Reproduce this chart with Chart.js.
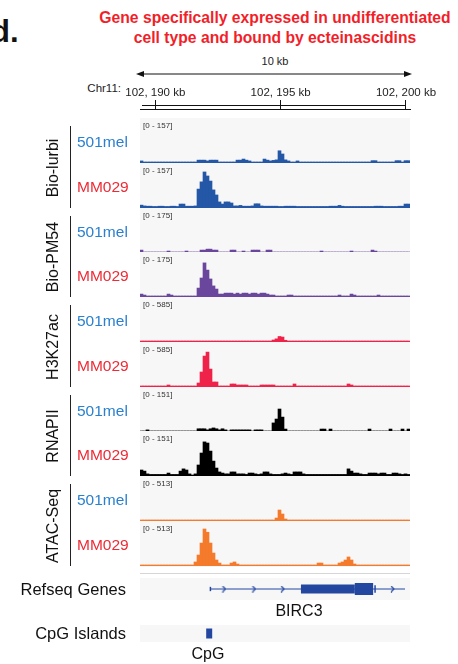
<!DOCTYPE html>
<html>
<head>
<meta charset="utf-8">
<script src="https://cdn.jsdelivr.net/npm/chart.js@4"></script>
<style>
  body { margin: 0; width: 458px; height: 664px; background: #fff; position: relative; overflow: hidden;
         font-family: Helvetica, Arial, "Liberation Sans", sans-serif; }
  .abs { position: absolute; line-height: 1; white-space: nowrap; }
  .panel { position: absolute; left: 140px; width: 270px; background: #f7f7f7; }
  .range { position: absolute; left: 143px; font-size: 8px; line-height: 1; color: #333; }
  .cell { position: absolute; left: 77px; font-size: 15.5px; line-height: 1; }
  .grp { position: absolute; left: -7px; width: 120px; height: 16px; font-size: 16px; line-height: 16px;
         text-align: center; transform: rotate(-90deg); color: #111; }
  .vline { position: absolute; left: 70px; width: 1px; background: #222; }
  .label { position: absolute; left: 0; width: 126px; text-align: right; font-size: 16.5px; line-height: 1; color: #111; }
</style>
</head>
<body>
<div class="abs" style="left:-9px;top:16px;font-size:31px;font-weight:bold;color:#111;">d.</div>
<div class="abs" style="left:75px;top:8px;width:400px;text-align:center;font-size:15.7px;line-height:20px;font-weight:bold;color:#f21f2a;">
  Gene specifically expressed in undifferentiated<br>cell type and bound by ecteinascidins</div>
<div class="abs" style="left:225px;top:56px;width:100px;text-align:center;font-size:11px;color:#222;">10 kb</div>
<svg style="position:absolute;left:0;top:68px" width="458" height="12">
  <line x1="139" y1="6" x2="409" y2="6" stroke="#111" stroke-width="1"/>
  <polygon points="136,6 144,3 144,9" fill="#111"/>
  <polygon points="412,6 404,3 404,9" fill="#111"/>
</svg>
<svg style="position:absolute;left:0;top:98px" width="458" height="10">
  <line x1="142" y1="7.5" x2="406" y2="7.5" stroke="#111" stroke-width="1"/>
  <line x1="155.5" y1="2" x2="155.5" y2="8" stroke="#111" stroke-width="1"/>
  <line x1="280.5" y1="2" x2="280.5" y2="8" stroke="#111" stroke-width="1"/>
  <line x1="405.5" y1="2" x2="405.5" y2="8" stroke="#111" stroke-width="1"/>
</svg>
<div class="abs" style="left:0;top:83px;width:121px;text-align:right;font-size:11.5px;color:#222;">Chr11:</div>
<div id="tracks"></div>
<div style="position:absolute;left:0;top:82px;width:458px;height:60px;"><canvas id="ruler" width="458" height="60"></canvas></div>
<div class="abs" style="left:140px;top:573px;width:270px;height:1px;background:#d6d6d6;"></div>
<div class="panel" style="top:578px;height:22px;"></div>
<div style="position:absolute;left:140px;top:578px;width:270px;height:22px;"><canvas id="gene" width="270" height="22"></canvas></div>
<div class="label" style="top:581px;">Refseq Genes</div>
<div class="abs" style="left:249px;top:603px;width:100px;text-align:center;font-size:16px;color:#111;">BIRC3</div>
<div class="panel" style="top:625px;height:17px;"></div>
<div style="position:absolute;left:140px;top:625px;width:270px;height:17px;"><canvas id="cpg" width="270" height="17"></canvas></div>
<div class="label" style="top:625px;">CpG Islands</div>
<div class="abs" style="left:158px;top:646px;width:100px;text-align:center;font-size:16px;color:#111;">CpG</div>

<script>
// genome window (kb on chr11) and ruler ticks
const viewStartKb = 102189.39;
const viewEndKb = 102200.16;
const rulerTicks = [102190, 102195, 102200];

// signal per 3px bin (90 bins across the window), in track units
const lurbi501 = [
  4,0,0,0,0,0,0,0,0,0,
  0,0,0,0,0,0,0,0,0,7,
  7,7,4,7,7,7,0,0,0,0,
  0,0,7,7,11,7,4,0,0,0,
  0,11,7,4,6,8,42,30,8,4,
  0,0,4,0,0,0,0,0,0,0,
  0,0,0,0,0,0,0,0,0,0,
  0,0,0,0,0,0,0,5,5,0,
  0,0,0,0,0,5,5,0,5,5];
const lurbiMM029 = [
  7,4,3,3,2,2,3,3,2,2,
  3,3,2,11,11,3,3,3,4,67,
  94,131,116,97,64,45,19,11,19,19,
  15,4,4,6,3,3,3,4,12,12,
  4,3,3,3,3,3,2,2,3,3,
  3,3,2,2,2,2,2,2,2,2,
  2,2,2,3,3,3,6,3,2,2,
  2,2,2,2,2,2,2,2,3,3,
  3,2,2,2,2,2,3,3,11,11];
const pm54_501 = [
  8,0,0,0,0,0,0,0,0,4,
  0,0,0,0,0,4,0,0,0,0,
  8,8,12,12,8,8,0,0,0,0,
  8,8,0,0,4,0,0,8,8,8,
  0,0,8,8,0,0,0,0,0,0,
  0,0,0,0,0,0,0,0,0,0,
  4,0,0,0,0,0,0,0,0,0,
  4,0,0,0,0,0,0,8,4,0,
  0,0,0,0,0,0,0,0,0,0];
const pm54MM029 = [
  8,4,0,0,0,0,0,0,0,8,
  4,0,0,0,0,0,0,0,0,33,
  75,138,108,71,42,29,8,8,12,12,
  12,8,12,8,12,12,8,12,12,8,
  12,12,8,4,4,0,0,0,0,4,
  4,0,0,0,0,0,0,0,0,0,
  0,0,0,0,0,0,4,0,0,0,
  8,4,0,0,0,0,0,0,0,4,
  0,0,0,0,0,0,0,0,0,0];
const h3k27ac501 = [
  0,0,0,0,0,0,0,0,0,0,
  0,0,0,0,0,0,0,0,0,0,
  0,0,0,0,0,0,0,0,0,0,
  0,0,0,0,0,0,0,0,0,0,
  0,0,0,0,14,30,63,55,10,0,
  0,0,0,0,0,0,0,0,0,0,
  0,0,0,0,0,0,0,0,0,0,
  0,0,0,0,0,0,0,0,0,0,
  0,0,0,0,0,0,0,0,0,0];
const h3k27acMM029 = [
  0,0,0,0,0,0,0,0,0,14,
  0,0,0,0,0,0,0,0,0,42,
  195,417,472,236,56,56,0,0,0,0,
  28,28,14,14,14,14,0,0,0,0,
  14,14,14,14,14,0,0,0,0,0,
  0,28,0,0,0,0,0,0,0,0,
  0,0,0,0,0,0,0,0,0,28,
  14,0,0,0,0,0,0,0,0,0,
  0,0,0,0,0,0,0,0,0,0];
const rnapii501 = [
  0,0,4,0,0,0,0,0,0,0,
  0,0,0,0,0,0,0,0,0,8,
  8,8,4,8,11,8,4,8,4,0,
  4,4,4,4,4,4,4,0,4,4,
  4,0,0,0,29,43,79,50,7,0,
  0,0,0,0,0,0,0,0,0,0,
  7,7,0,7,0,0,0,0,0,0,
  0,0,0,0,0,0,7,0,0,0,
  0,0,0,7,0,0,0,7,0,7];
const rnapiiMM029 = [
  18,14,4,2,2,2,2,2,2,7,
  2,2,2,14,22,18,4,0,4,36,
  79,119,115,86,50,25,11,7,4,4,
  11,11,4,4,4,2,7,7,4,2,
  4,11,11,4,2,2,2,4,7,4,
  2,11,11,11,4,2,2,2,2,2,
  2,2,2,2,2,2,2,2,2,22,
  14,7,7,4,2,2,7,7,7,4,
  7,7,2,2,7,7,4,2,4,2];
const atac501 = [
  0,0,0,0,0,0,0,0,0,0,
  0,0,0,0,0,0,0,0,0,0,
  0,0,0,0,0,0,0,0,0,0,
  0,0,0,0,0,0,0,0,0,0,
  0,0,0,0,0,24,122,73,12,0,
  0,0,0,0,0,0,0,0,0,0,
  0,0,0,0,0,0,0,0,0,0,
  0,0,0,0,0,0,0,0,0,0,
  0,0,0,0,0,0,0,0,0,0];
const atacMM029 = [
  0,0,0,0,0,0,0,0,0,0,
  0,0,0,0,0,0,0,0,37,122,
  268,440,400,268,146,61,24,0,0,0,
  24,37,12,0,0,0,0,0,0,0,
  0,0,0,0,0,0,0,0,0,0,
  0,0,0,0,0,0,0,0,0,24,
  24,0,0,0,0,0,24,37,61,98,
  61,12,0,0,0,0,0,0,0,0,
  0,0,0,0,0,0,0,0,0,0];

const groups = ['Bio-lurbi', 'Bio-PM54', 'H3K27ac', 'RNAPII', 'ATAC-Seq'];
const cellLines = ['501mel', 'MM029'];
const dataRanges = [157, 175, 585, 151, 513];
const groupColors = ['#2457a6', '#6b469d', '#ef2349', '#000000', '#f47a2c'];
const cellColors = ['#2a80cf', '#ee2a35'];

// gene model (kb)
const geneSpan = [102192.10, 102200.16];
const utrExon = [102195.85, 102198.08];
const codingExon = [102198.08, 102198.84];
const geneTicks = [102192.10, 102198.92];
const strandArrows = [102192.66, 102193.90, 102195.09, 102199.64];
const cpgIsland = [102192.03, 102192.27];

const trackData = [lurbi501, lurbiMM029, pm54_501, pm54MM029, h3k27ac501, h3k27acMM029,
                   rnapii501, rnapiiMM029, atac501, atacMM029];
const baselines = [162, 207, 252, 296, 341, 386, 431, 475, 520, 565];

Chart.defaults.font.family = 'Helvetica, Arial, "Liberation Sans", sans-serif';

function trackChart(canvas, values, max, color) {
    return new Chart(canvas, {
        type: 'bar',
        data: {
            labels: values.map((v, i) => i),
            datasets: [{ data: values, backgroundColor: color, borderWidth: 0,
                         barPercentage: 1, categoryPercentage: 1 }]
        },
        options: {
            responsive: false, animation: false, events: [],
            layout: { padding: { bottom: 1 } },
            plugins: { legend: { display: false }, tooltip: { enabled: false } },
            scales: {
                x: { grid: { display: false, drawTicks: false }, ticks: { display: false },
                     border: { color: color, width: 1 } },
                y: { display: false, min: 0, max: max }
            }
        }
    });
}

const host = document.getElementById('tracks');
let html = '';
trackData.forEach((vals, k) => {
    const g = Math.floor(k / 2), b = baselines[k];
    html += `<div class="panel" style="top:${b - 44}px;height:46px;"></div>`;
    html += `<div style="position:absolute;left:140px;top:${b - 42}px;width:270px;height:43px;"><canvas id="t${k}" width="270" height="43"></canvas></div>`;
    html += `<div class="range" style="top:${b - 40}px;">[0 - ${dataRanges[g]}]</div>`;
    html += `<div class="cell" style="top:${b - 28}px;color:${cellColors[k % 2]}">${cellLines[k % 2]}</div>`;
    if (k % 2 === 0) {
        const b2 = baselines[k + 1];
        html += `<div class="vline" style="top:${b - 36}px;height:${b2 - b + 37}px;"></div>`;
        html += `<div class="grp" style="top:${(b + b2) / 2 - 17 - 8}px;">${groups[g]}</div>`;
    }
});
host.innerHTML = html;
trackData.forEach((vals, k) => {
    const g = Math.floor(k / 2);
    trackChart(document.getElementById('t' + k), vals, dataRanges[g], groupColors[g]);
});

// ruler
new Chart(document.getElementById('ruler'), {
    type: 'line',
    data: { datasets: [] },
    options: {
        responsive: false, animation: false, events: [],
        layout: { padding: { left: 140, right: 48 } },
        plugins: { legend: { display: false }, tooltip: { enabled: false } },
        scales: {
            x: {
                type: 'linear', position: 'top', min: viewStartKb, max: viewEndKb,
                afterBuildTicks: s => { s.ticks = rulerTicks.map(v => ({ value: v })); },
                ticks: {
                    autoSkip: false, maxRotation: 0, padding: 4, color: '#222', font: { size: 11.5 },
                    callback: v => Math.floor(v / 1000) + ', ' + (v % 1000) + ' kb'
                },
                grid: { drawOnChartArea: false, drawTicks: true, tickLength: 6, color: '#111', lineWidth: 1 },
                border: { color: '#111', width: 1 }
            },
            y: { display: false }
        }
    }
});

// chevron marker for strand direction
const chevron = document.createElement('canvas');
chevron.width = 5; chevron.height = 7;
const cx = chevron.getContext('2d');
cx.strokeStyle = '#2346a0'; cx.lineWidth = 1.2;
cx.beginPath(); cx.moveTo(1, 0.5); cx.lineTo(4, 3.5); cx.lineTo(1, 6.5); cx.stroke();

const geneBlue = '#2346a0';
function seg(pair, y, w) {
    return { data: pair.map(x => ({ x: x, y: y })), showLine: true, borderColor: geneBlue,
             borderWidth: w, borderCapStyle: 'butt', pointRadius: 0 };
}
function vtick(x, h) {
    return { data: [{ x: x, y: -h }, { x: x, y: h }], showLine: true, borderColor: geneBlue,
             borderWidth: 1.5, pointRadius: 0 };
}
function featureOptions() {
    return {
        responsive: false, animation: false, events: [],
        plugins: { legend: { display: false }, tooltip: { enabled: false } },
        scales: {
            x: { type: 'linear', display: false, min: viewStartKb, max: viewEndKb },
            y: { display: false, min: -1, max: 1 }
        }
    };
}

new Chart(document.getElementById('gene'), {
    type: 'scatter',
    data: {
        datasets: [
            seg(geneSpan, 0, 1),
            seg(utrExon, 0, 9),
            seg(codingExon, 0, 14),
            vtick(geneTicks[0], 0.36),
            vtick(geneTicks[1], 0.64),
            { data: strandArrows.map(x => ({ x: x, y: 0 })), pointStyle: chevron, pointRadius: 3 }
        ]
    },
    options: featureOptions()
});

new Chart(document.getElementById('cpg'), {
    type: 'scatter',
    data: { datasets: [seg(cpgIsland, 0, 10)] },
    options: featureOptions()
});
</script>
</body>
</html>
